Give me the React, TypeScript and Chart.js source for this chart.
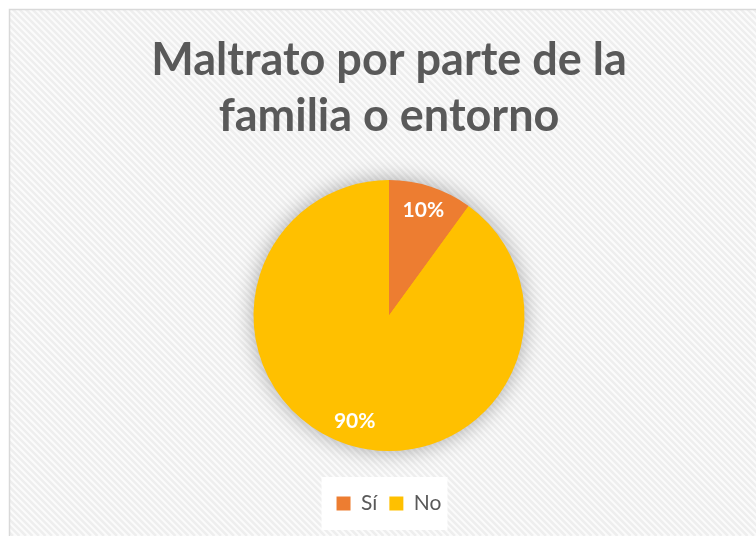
import React, { useEffect, useRef } from "react";
import { Chart, registerables } from "chart.js";

Chart.register(...registerables);

const titleLines = ["Maltrato por parte de la", "familia o entorno"];
const categories = ["Sí", "No"];
const values = [10, 90];
const sliceColors = ["#ED7D31", "#FFC000"];

const FONT = "Lato, 'Open Sans', sans-serif";

const backgroundPlugin = {
  id: "bgHatch",
  beforeDraw(chart: any) {
    const ctx = chart.ctx as CanvasRenderingContext2D;
    const w = chart.width;
    const h = chart.height;
    ctx.save();
    ctx.fillStyle = "#FFFFFF";
    ctx.fillRect(0, 0, w, h);
    ctx.beginPath();
    ctx.rect(9, 9, w + 20, h + 20);
    ctx.clip();
    ctx.fillStyle = "#FBFBFB";
    ctx.fillRect(9, 9, w, h);
    ctx.strokeStyle = "#EEEEEE";
    ctx.lineWidth = 2.5;
    for (let k = -h; k < w + h; k += 6.5) {
      ctx.beginPath();
      ctx.moveTo(k, 0);
      ctx.lineTo(k + h, h);
      ctx.stroke();
    }
    ctx.restore();
    ctx.save();
    ctx.strokeStyle = "#D9D9D9";
    ctx.lineWidth = 1.5;
    ctx.strokeRect(9.5, 9.5, w + 20, h + 20);
    ctx.restore();
    const lg = chart.legend;
    if (lg && lg.legendHitBoxes && lg.legendHitBoxes.length) {
      const boxes = lg.legendHitBoxes;
      let l = Infinity, r = -Infinity, t = Infinity, b = -Infinity;
      for (const hb of boxes) {
        l = Math.min(l, hb.left);
        r = Math.max(r, hb.left + hb.width);
        t = Math.min(t, hb.top);
        b = Math.max(b, hb.top + hb.height);
      }
      ctx.save();
      ctx.fillStyle = "#FFFFFF";
      ctx.fillRect(l - 15, t - 16, r - l + 21, b - t + 32);
      ctx.restore();
    }
  },
};

const shadowPlugin = {
  id: "pieShadow",
  beforeDatasetsDraw(chart: any) {
    const meta = chart.getDatasetMeta(0);
    if (!meta || !meta.data.length) return;
    const arc = meta.data[0];
    const { x, y, outerRadius } = arc.getProps(["x", "y", "outerRadius"], true);
    const ctx = chart.ctx as CanvasRenderingContext2D;
    ctx.save();
    ctx.shadowColor = "rgba(0,0,0,0.35)";
    ctx.shadowBlur = 22;
    ctx.fillStyle = "#FFC000";
    ctx.beginPath();
    ctx.arc(x, y, outerRadius - 1, 0, Math.PI * 2);
    ctx.fill();
    ctx.restore();
  },
};

const labelPlugin = {
  id: "sliceLabels",
  afterDatasetsDraw(chart: any) {
    const meta = chart.getDatasetMeta(0);
    const data = chart.data.datasets[0].data as number[];
    const total = data.reduce((a, b) => a + b, 0);
    const ctx = chart.ctx as CanvasRenderingContext2D;
    ctx.save();
    ctx.fillStyle = "#FFFFFF";
    ctx.font = `bold 21px ${FONT}`;
    ctx.textAlign = "center";
    ctx.textBaseline = "middle";
    meta.data.forEach((arc: any, i: number) => {
      const { x, y, startAngle, endAngle, outerRadius } = arc.getProps(
        ["x", "y", "startAngle", "endAngle", "outerRadius"],
        true
      );
      const mid = (startAngle + endAngle) / 2;
      const r = outerRadius * 0.82;
      const pct = Math.round((data[i] / total) * 100) + "%";
      ctx.fillText(pct, x + Math.cos(mid) * r, y + Math.sin(mid) * r);
    });
    ctx.restore();
  },
};

export default function App() {
  const ref = useRef<HTMLCanvasElement | null>(null);
  useEffect(() => {
    if (!ref.current) return;
    const chart = new Chart(ref.current, {
      type: "pie",
      data: {
        labels: categories,
        datasets: [
          {
            data: values,
            backgroundColor: sliceColors,
            borderWidth: 0,
            radius: 135.5,
          } as any,
        ],
      },
      options: {
        animation: false,
        responsive: false,
        layout: { padding: { top: 32, left: 22, right: 0, bottom: 12 } },
        plugins: {
          title: {
            display: true,
            text: titleLines,
            color: "#595959",
            font: { family: FONT, size: 45, weight: "bold", lineHeight: 1.245 },
            padding: { top: 0, bottom: 6 },
          },
          legend: {
            display: true,
            position: "bottom",
            labels: {
              color: "#595959",
              font: { family: FONT, size: 21 },
              boxWidth: 14,
              boxHeight: 14,
              padding: 12,
            },
          },
          tooltip: { enabled: false },
        },
      },
      plugins: [backgroundPlugin, shadowPlugin, labelPlugin],
    });
    return () => chart.destroy();
  }, []);
  return (
    <div style={{ position: "fixed", left: 0, top: 0, width: 756, height: 536, overflow: "hidden" }}>
      <canvas ref={ref} width={756} height={536} style={{ display: "block" }} />
    </div>
  );
}
